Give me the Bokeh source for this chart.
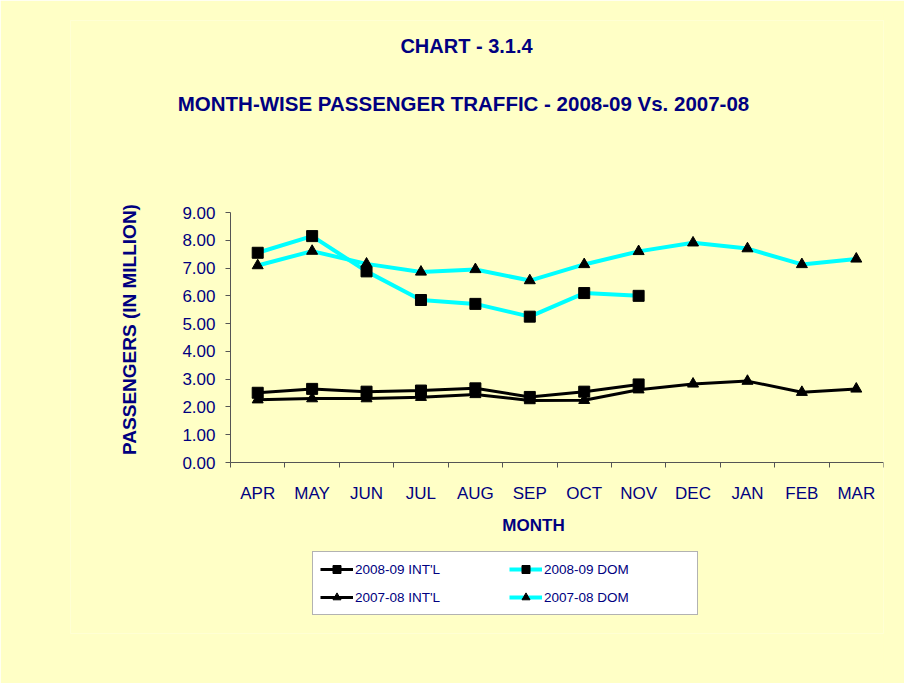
from math import pi
from bokeh.plotting import figure
from bokeh.models import (Range1d, FixedTicker, Legend, LegendItem, Label,
                          ColumnDataSource)
from bokeh.embed import file_html
from bokeh.resources import INLINE

months = ["APR", "MAY", "JUN", "JUL", "AUG", "SEP", "OCT", "NOV", "DEC", "JAN", "FEB", "MAR"]
intl_0809 = [2.51, 2.65, 2.55, 2.59, 2.67, 2.36, 2.55, 2.81]
dom_0809 = [7.55, 8.15, 6.88, 5.85, 5.71, 5.25, 6.10, 6.00]
intl_0708 = [2.26, 2.30, 2.30, 2.35, 2.45, 2.23, 2.24, 2.62, 2.83, 2.93, 2.53, 2.65]
dom_0708 = [7.09, 7.61, 7.15, 6.86, 6.95, 6.55, 7.13, 7.60, 7.91, 7.70, 7.13, 7.33]
y_ticks = [0, 1, 2, 3, 4, 5, 6, 7, 8, 9]

NAVY = "#000080"
BG = "#FFFFC6"
CYAN = "#00FFFF"
FONT = "Liberation Sans"

# layout geometry (pixels)
W, H = 904, 683
F_LEFT, F_RIGHT, F_TOP, F_BOTTOM = 70, 883, 20, 633    # frame edges
X0_PX, X12_PX = 230, 883                               # where the x axis runs
Y0_PX, Y9_PX = 462, 212                                # where 0 and 9 sit
ppu_y = (Y0_PX - Y9_PX) / 9.0
ppu_x = (X12_PX - X0_PX) / len(months)
y_hi = 9 + (Y9_PX - F_TOP) / ppu_y
y_lo = -(F_BOTTOM - Y0_PX) / ppu_y
x_lo = -(X0_PX - F_LEFT) / ppu_x
x_hi = len(months) + (F_RIGHT - X12_PX) / ppu_x

xc = [i + 0.5 for i in range(len(months))]

p = figure(width=W, height=H, output_backend="svg", toolbar_location=None,
           x_range=Range1d(x_lo, x_hi), y_range=Range1d(y_lo, y_hi),
           min_border_left=F_LEFT, min_border_right=W - F_RIGHT,
           min_border_top=F_TOP, min_border_bottom=H - F_BOTTOM)
p.background_fill_color = BG
p.border_fill_color = BG
p.outline_line_color = None
p.xgrid.visible = False
p.ygrid.visible = False

# x axis: at y = 0, labels at category centres, ticks at category boundaries
xa = p.xaxis[0]
xa.fixed_location = 0
xa.bounds = (0, len(months))
xa.ticker = FixedTicker(ticks=xc, minor_ticks=list(range(len(months) + 1)))
xa.major_label_overrides = {c: m for c, m in zip(xc, months)}
xa.major_tick_out = 0
xa.major_tick_in = 0
xa.minor_tick_out = 5
xa.minor_tick_in = 0
xa.major_label_standoff = 16
xa.major_label_text_font = FONT
xa.major_label_text_font_size = "17px"
xa.major_label_text_color = NAVY
xa.axis_line_color = "#555555"
xa.minor_tick_line_color = "#555555"

ya = p.yaxis[0]
ya.fixed_location = 0
ya.bounds = (0, 9)
ya.ticker = FixedTicker(ticks=y_ticks, minor_ticks=[])
ya.major_label_overrides = {t: f"{t:.2f}" for t in y_ticks}
ya.major_tick_out = 5
ya.major_tick_in = 0
ya.major_label_standoff = 10
ya.major_label_text_font = FONT
ya.major_label_text_font_size = "17px"
ya.major_label_text_color = NAVY
ya.axis_line_color = "#555555"
ya.major_tick_line_color = "#555555"

series = [
    ("2008-09 INT'L", intl_0809, "black", 3, "square", 11),
    ("2007-08 INT'L", intl_0708, "black", 3, "triangle", 11),
    ("2008-09 DOM", dom_0809, CYAN, 4, "square", 11),
    ("2007-08 DOM", dom_0708, CYAN, 4, "triangle", 11),
]
items = []
for name, vals, col, lw, mk, sz in series:
    src = ColumnDataSource(dict(x=xc[:len(vals)], y=vals))
    r1 = p.line("x", "y", source=src, line_color=col, line_width=lw)
    r2 = p.scatter("x", "y", source=src, marker=mk, size=sz,
                   fill_color="black", line_color="black")
    items.append(LegendItem(label=name, renderers=[r1, r2]))

legend = Legend(items=items, location=(312 - F_LEFT, F_BOTTOM - 615),
                orientation="vertical", ncols=2,
                glyph_width=33, glyph_height=20, label_height=20, label_width=146,
                label_standoff=2, spacing=8, padding=7,
                label_text_font=FONT, label_text_font_size="13.5px",
                label_text_color=NAVY, background_fill_color="white",
                background_fill_alpha=1.0, border_line_color="#666666",
                border_line_width=1)
p.add_layout(legend, "center")

# titles and axis titles (screen units, relative to frame bottom-left)
texts = [
    ("CHART - 3.1.4", 466, 45, "20px", 0),
    ("MONTH-WISE PASSENGER TRAFFIC - 2008-09 Vs. 2007-08", 463, 103, "20.5px", 0),
    ("MONTH", 533, 525, "17px", 0),
    ("PASSENGERS (IN MILLION)", 129, 329, "19px", pi / 2),
]
for txt, px, py, fs, ang in texts:
    p.add_layout(Label(x=px - F_LEFT, y=F_BOTTOM - py, x_units="screen", y_units="screen",
                       text=txt, text_align="center", text_baseline="middle", angle=ang,
                       text_font=FONT, text_font_style="bold",
                       text_font_size=fs, text_color=NAVY))

open("out.html", "w").write(file_html(p, INLINE))
